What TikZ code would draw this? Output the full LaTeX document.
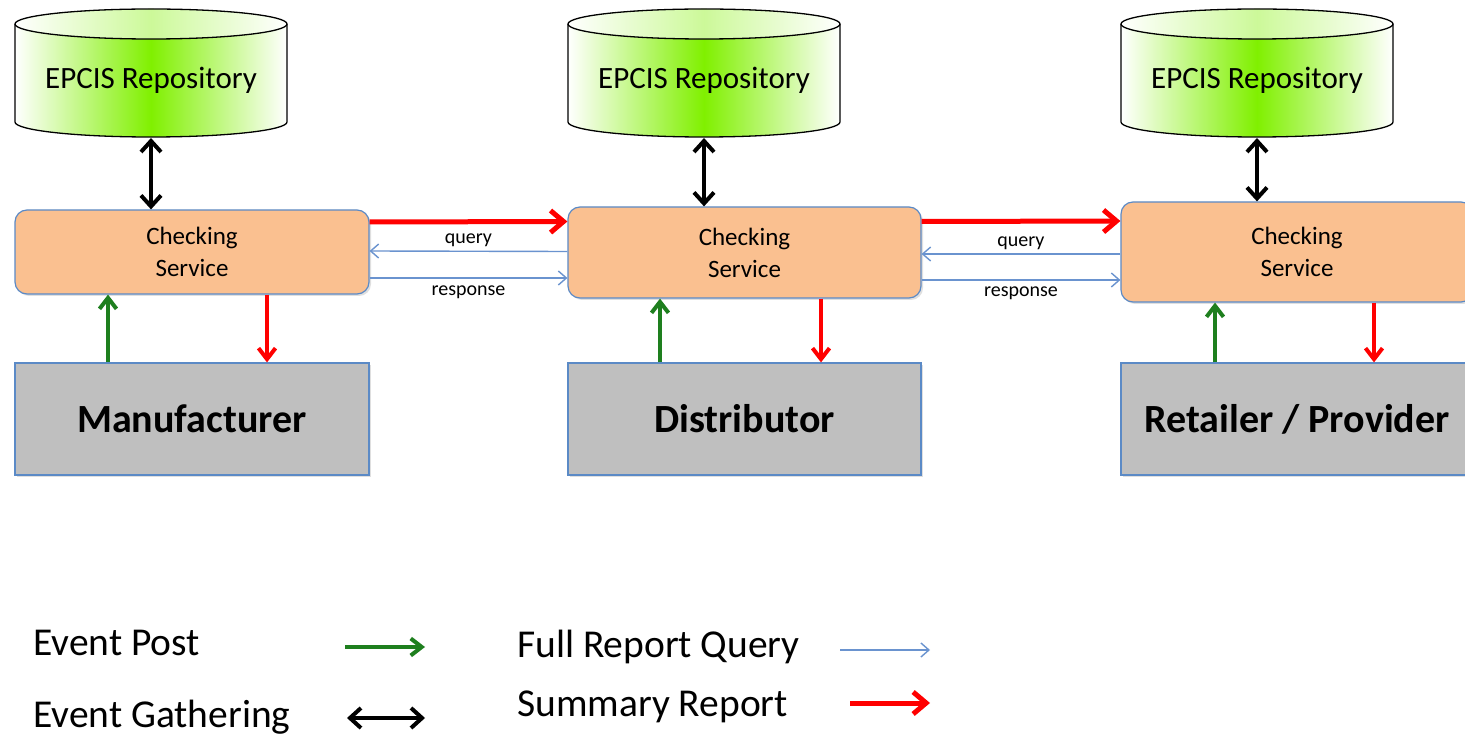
\documentclass[tikz,border=0pt]{standalone}
\usepackage{fontspec}
\setmainfont{Carlito}
\usetikzlibrary{arrows.meta,shadows}
\definecolor{orng}{HTML}{FAC090}
\definecolor{bord}{HTML}{5B8AC6}
\definecolor{greybox}{HTML}{BFBFBF}
\definecolor{qblue}{HTML}{6A93CF}
\definecolor{dgreen}{HTML}{1E7F1E}
\definecolor{brgreen}{HTML}{80F000}
\tikzset{
  chkbox/.style={draw=bord, line width=1.2pt, fill=orng, rounded corners=12pt,
    align=center, font=\fontsize{25}{32}\selectfont, inner sep=0pt,
    drop shadow={opacity=0.25, shadow xshift=2pt, shadow yshift=-2pt}},
  actbox/.style={draw=bord, line width=1.2pt, fill=greybox, inner sep=0pt,
    font=\fontsize{40}{48}\selectfont\bfseries,
    drop shadow={opacity=0.25, shadow xshift=2pt, shadow yshift=-2pt}},
  reptext/.style={font=\fontsize{31}{36}\selectfont, inner sep=0pt},
  lbl/.style={font=\fontsize{20}{22}\selectfont, inner sep=0pt, text=black},
  legtext/.style={font=\fontsize{39.5}{44}\selectfont, inner sep=0pt, anchor=west},
  gather/.style={line width=4pt, {Straight Barb[length=11pt,width=20pt]}-{Straight Barb[length=11pt,width=20pt]}},
  post/.style={line width=4pt, dgreen, -{Straight Barb[length=11pt,width=17pt]}},
  summ/.style={line width=4pt, red, -{Straight Barb[length=11pt,width=17pt]}},
  summh/.style={line width=5pt, red, -{Straight Barb[length=13pt,width=22pt]}},
  fullq/.style={line width=1.4pt, qblue, -{Straight Barb[length=8pt,width=14pt]}},
}
\newcommand{\repo}[2]{%
  \shade[left color=white, right color=white, middle color=brgreen]
    (#1-136,24) -- (#1-136,122) arc (180:360:136pt and 15pt) -- (#1+136,24) arc (0:180:136pt and 15pt) -- cycle;
  \draw[line width=1.3pt] (#1-136,24) -- (#1-136,122) arc (180:360:136pt and 15pt) -- (#1+136,24);
  \shade[left color=white, right color=white, middle color=brgreen!40]
    (#1,24) ellipse [x radius=136pt, y radius=15pt];
  \draw[line width=1.3pt] (#1,24) ellipse [x radius=136pt, y radius=15pt];
  \node[reptext] (#2) at (#1,80) {EPCIS Repository};
  \coordinate (#2b) at (#1,138);
}
\begin{document}
\begin{tikzpicture}[x=1pt,y=-1pt]
\clip (0,0) rectangle (1465,735);
\fill[white] (0,0) rectangle (1465,735);

% repositories
\repo{151}{r1}
\repo{704}{r2}
\repo{1257}{r3}

% checking services
\node[chkbox, minimum width=354pt, minimum height=84pt] (c1) at (192,252) {Checking\\Service};
\node[chkbox, minimum width=353pt, minimum height=91pt] (c2) at (744.5,252.5) {Checking\\Service};
\node[chkbox, minimum width=352pt, minimum height=100pt] (c3) at (1297,252) {Checking\\Service};

% actors
\node[actbox, minimum width=354pt, minimum height=112pt] (a1) at (192,419) {Manufacturer};
\node[actbox, minimum width=353pt, minimum height=112pt] (a2) at (744.5,419) {Distributor};
\node[actbox, minimum width=352pt, minimum height=112pt] (a3) at (1297,419) {Retailer / Provider};

% event gathering
\draw[gather] (r1b) -- (r1b |- c1.north);
\draw[gather] (r2b) -- (r2b |- c2.north);
\draw[gather] (r3b) -- (r3b |- c3.north);

% inter-service
\draw[summh] ([yshift=30pt]c1.east) -- ([yshift=31pt]c2.west);
\draw[fullq] ([yshift=1pt]c2.west) -- node[lbl, above=4pt] {query} ([yshift=1pt]c1.east);
\draw[fullq] ([yshift=-26pt]c1.east) -- node[lbl, below=7pt] {response} ([yshift=-25.5pt]c2.west);

\draw[summh] ([yshift=31pt]c2.east) -- ([yshift=31pt]c3.west);
\draw[fullq] ([yshift=-2pt]c3.west) -- node[lbl, above=4pt] {query} ([yshift=-1.5pt]c2.east);
\draw[fullq] ([yshift=-27.5pt]c2.east) -- node[lbl, below=6pt] {response} ([yshift=-28pt]c3.west);

% posts and summaries
\draw[post] ([xshift=-84pt]a1.north) -- ([xshift=-84pt]c1.south);
\draw[summ] ([xshift=75pt]c1.south) -- ([xshift=75pt]a1.north);
\draw[post] ([xshift=-84.5pt]a2.north) -- ([xshift=-84.5pt]c2.south);
\draw[summ] ([xshift=76.5pt]c2.south) -- ([xshift=76.5pt]a2.north);
\draw[post] ([xshift=-82pt]a3.north) -- ([xshift=-82pt]c3.south);
\draw[summ] ([xshift=77pt]c3.south) -- ([xshift=77pt]a3.north);

% legend
\node[legtext] (l1) at (33,643) {Event Post};
\node[legtext] (l2) at (33,717) {Event Gathering};
\node[legtext] (l3) at (517,647) {Full Report Query};
\node[legtext] (l4) at (517,707) {Summary Report};
\coordinate (p1a) at (345,647); \coordinate (p1b) at (425,647);
\coordinate (p2a) at (347,718); \coordinate (p2b) at (425,718);
\coordinate (p3a) at (840,650); \coordinate (p3b) at (930,650);
\coordinate (p4a) at (850,703); \coordinate (p4b) at (930,703);
\draw[post] (p1a) -- (p1b);
\draw[gather] (p2a) -- (p2b);
\draw[fullq] (p3a) -- (p3b);
\draw[summh] (p4a) -- (p4b);
\end{tikzpicture}
\end{document}
